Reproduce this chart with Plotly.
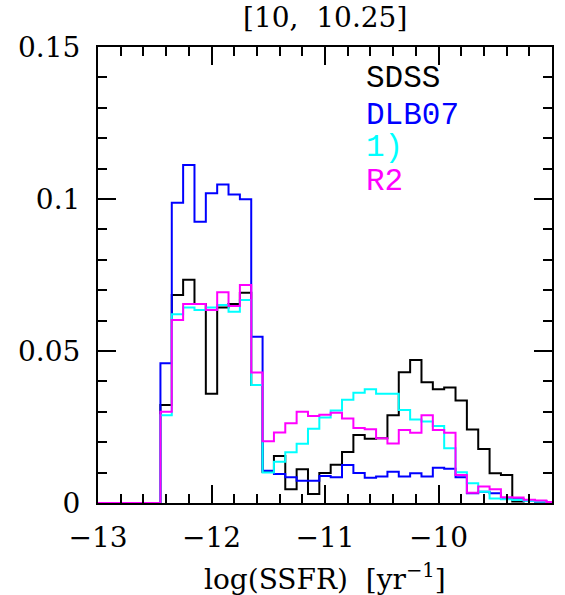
import plotly.graph_objects as go

# bin centres (width 0.1) of log(SSFR)
centers = [round(-13.0 + 0.1 * i, 2) for i in range(41)]
lead = [0.0] * 6  # bins -13.0 .. -12.5 are empty

sdss = lead + [0.0322, 0.0684, 0.0734, 0.0655, 0.0359, 0.0643, 0.0655, 0.0692, 0.0388, 0.0102,
               0.0155, 0.0045, 0.0111, 0.0030, 0.0099, 0.0126, 0.0168, 0.0224, 0.0211, 0.0213,
               0.0289, 0.0430, 0.0470, 0.0397, 0.0374, 0.0380, 0.0337, 0.0242, 0.0178, 0.0098,
               0.0092, 0.0005, 0.0010, 0.0005, 0.0003]
dlb07 = lead + [0.0460, 0.0988, 0.1112, 0.0925, 0.1019, 0.1048, 0.1015, 0.0999, 0.0547, 0.0106,
                0.0095, 0.0085, 0.0073, 0.0073, 0.0089, 0.0085, 0.0125, 0.0099, 0.0083, 0.0087,
                0.0103, 0.0087, 0.0098, 0.0087, 0.0116, 0.0113, 0.0085, 0.0032, 0.0037, 0.0032,
                0.0014, 0.0012, 0.0008, 0.0005, 0.0003]
model1 = lead + [0.0289, 0.0621, 0.0643, 0.0635, 0.0643, 0.0651, 0.0629, 0.0668, 0.0388, 0.0100,
                 0.0136, 0.0167, 0.0195, 0.0244, 0.0281, 0.0304, 0.0340, 0.0363, 0.0374, 0.0359,
                 0.0359, 0.0306, 0.0275, 0.0268, 0.0253, 0.0180, 0.0101, 0.0065, 0.0037, 0.0015,
                 0.0012, 0.0010, 0.0007, 0.0005, 0.0003]
r2 = lead + [0.0300, 0.0602, 0.0655, 0.0655, 0.0635, 0.0693, 0.0648, 0.0717, 0.0429, 0.0203,
             0.0232, 0.0262, 0.0300, 0.0286, 0.0290, 0.0297, 0.0278, 0.0247, 0.0243, 0.0213,
             0.0196, 0.0240, 0.0231, 0.0289, 0.0240, 0.0231, 0.0092, 0.0034, 0.0054, 0.0045,
             0.0019, 0.0018, 0.0011, 0.0008, 0.0003]

series = [("SDSS", sdss, "#000000"), ("DLB07", dlb07, "#0000ff"),
          ("1)", model1, "#00ffff"), ("R2", r2, "#ff00ff")]

x_ticks = [-13, -12, -11, -10]
y_ticks = [0, 0.05, 0.1, 0.15]
y_ticktext = ["0", "0.05", "0.1", "0.15"]

fig = go.Figure()
for name, vals, col in series:
    fig.add_trace(go.Scatter(x=centers, y=vals, mode="lines", name=name,
                             line=dict(color=col, width=2, shape="hvh"),
                             showlegend=False))

tickfont = dict(family="DejaVu Serif", size=28, color="black")
axis_common = dict(showline=True, linecolor="black", linewidth=2, mirror="allticks",
                   ticks="inside", ticklen=18, tickwidth=2, tickcolor="black",
                   showgrid=False, zeroline=False, tickfont=tickfont)

fig.update_xaxes(range=[-13, -9], tickmode="array", tickvals=x_ticks,
                 ticktext=["\u221213", "\u221212", "\u221211", "\u221210"],
                 minor=dict(tickmode="linear", tick0=-13, dtick=0.2, ticks="inside",
                            ticklen=9, tickwidth=2, tickcolor="black", showgrid=False),
                 ticklabelstandoff=8, **axis_common)
fig.update_yaxes(range=[0, 0.15], tickmode="array", tickvals=y_ticks, ticktext=y_ticktext,
                 minor=dict(tickmode="linear", tick0=0, dtick=0.01, ticks="inside",
                            ticklen=9, tickwidth=2, tickcolor="black", showgrid=False),
                 ticklabelstandoff=10, **axis_common)

legend_y = [0.1395, 0.1276, 0.1168, 0.1056]
for (name, _, col), yy in zip(series, legend_y):
    fig.add_annotation(x=-10.66, y=yy, xref="x", yref="y", text=name, showarrow=False,
                       xanchor="left", yanchor="middle",
                       font=dict(family="Liberation Mono", size=31, color=col))

fig.add_annotation(x=0.5, y=1.0, xref="paper", yref="paper", yshift=30,
                   text="[10,  10.25]", showarrow=False, xanchor="center", yanchor="middle",
                   font=dict(family="DejaVu Serif", size=28, color="black"))
fig.add_annotation(x=0.5, y=0, xref="paper", yref="paper", yshift=-74,
                   text="log(SSFR)  [yr<sup>\u22121</sup>]", showarrow=False,
                   xanchor="center", yanchor="middle",
                   font=dict(family="DejaVu Serif", size=28, color="black"))

fig.update_layout(width=565, height=595, margin=dict(l=98, r=11, t=47, b=92),
                  paper_bgcolor="white", plot_bgcolor="white")

fig.write_html("out.html")
